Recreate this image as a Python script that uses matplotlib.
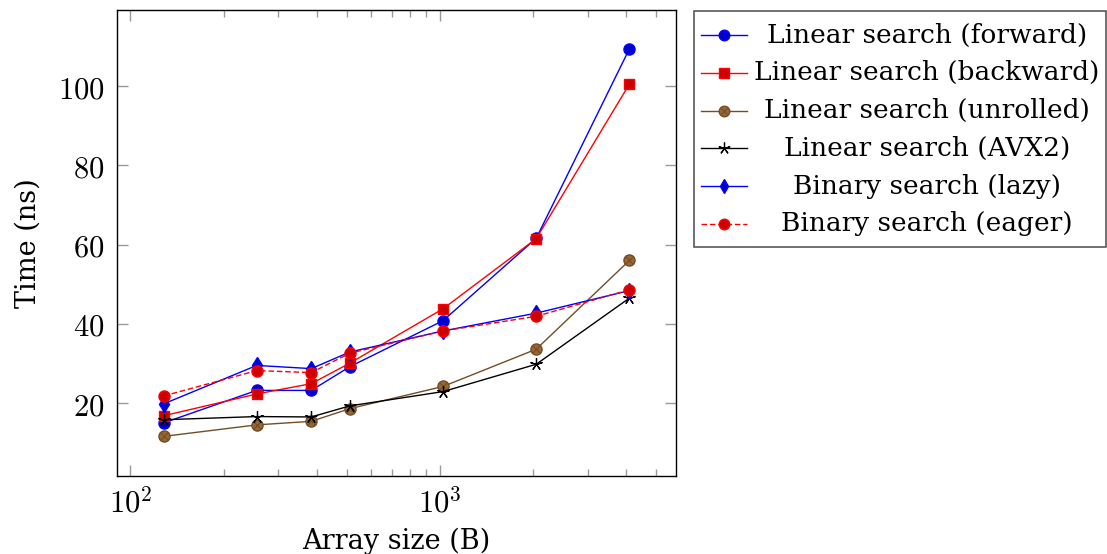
import matplotlib
matplotlib.use('Agg')
import matplotlib.pyplot as plt
from matplotlib.patches import Rectangle
from matplotlib.ticker import FuncFormatter
import numpy as np

# array sizes in bytes and timings in ns
sizes = [128, 256, 384, 512, 1024, 2048, 4096]
linear_forward = [15.0, 23.2, 23.2, 29.2, 40.8, 61.6, 109.4]
linear_backward = [16.8, 22.3, 24.9, 30.1, 43.8, 61.5, 100.5]
linear_unrolled = [11.6, 14.5, 15.4, 18.6, 24.2, 33.6, 56.0]
linear_avx2 = [15.8, 16.6, 16.5, 19.3, 22.9, 29.8, 46.5]
binary_lazy = [19.8, 29.5, 28.7, 32.9, 38.2, 42.7, 48.4]
binary_eager = [21.8, 28.2, 27.7, 32.6, 38.2, 41.9, 48.6]

labels = [
    "Linear search (forward)",
    "Linear search (backward)",
    "Linear search (unrolled)",
    "Linear search (AVX2)",
    "Binary search (lazy)",
    "Binary search (eager)",
]
series = [linear_forward, linear_backward, linear_unrolled,
          linear_avx2, binary_lazy, binary_eager]

# pgfplots-like cycle list
styles = [
    dict(color=(0, 0, 1), marker='o', mfc=(0, 0, 0.8), mec=(0, 0, 1), ms=8, ls='-'),
    dict(color=(1, 0, 0), marker='s', mfc=(0.8, 0, 0), mec=(1, 0, 0), ms=7.5, ls='-'),
    dict(color=(0.45, 0.3, 0.15), marker='o', mfc=(0.6, 0.4, 0.2), mec=(0.45, 0.3, 0.15), ms=8, ls='-'),
    dict(color='black', marker=(5, 2, 0), mfc='black', mec='black', ms=9, ls='-', mew=0.9),
    dict(color=(0, 0, 1), marker='d', mfc=(0, 0, 0.8), mec=(0, 0, 1), ms=8, ls='-'),
    dict(color=(1, 0, 0), marker='o', mfc=(0.8, 0, 0), mec=(1, 0, 0), ms=8, ls=(0, (4, 2))),
]

plt.rcParams['font.family'] = ['DejaVu Serif']
plt.rcParams['mathtext.fontset'] = 'cm'

W, H = 1107, 554
fig = plt.figure(figsize=(W / 100, H / 100), dpi=100)
ax = fig.add_axes([117 / W, 1 - 476 / H, (676 - 117) / W, (476 - 10) / H])

for vals, st, lab in zip(series, styles, labels):
    ax.plot(sizes, vals, lw=1.0, label=lab, **st)
    if lab.endswith('(unrolled)'):
        # otimes mark: cross on top of the filled circle
        ax.plot(sizes, vals, ls='none', marker='x', ms=5.5, mew=0.8,
                color=(0.45, 0.3, 0.15))

ax.set_xscale('log')
ax.set_xlim(90.5, 5793)
ax.set_ylim(1.6, 119.2)
ax.set_yticks([20, 40, 60, 80, 100])
ax.xaxis.set_major_formatter(FuncFormatter(lambda v, p: f'$10^{{{int(round(np.log10(v)))}}}$'))
ax.xaxis.set_minor_formatter(FuncFormatter(lambda v, p: ''))
ax.yaxis.set_major_formatter(FuncFormatter(lambda v, p: f'${v:g}$'))
ax.tick_params(which='both', direction='in', top=True, right=True,
               color='0.6', labelsize=22, pad=9)
ax.tick_params(which='major', length=8, width=1)
ax.tick_params(which='minor', length=5, width=1)
ax.set_xlabel('Array size (B)', fontsize=19.5, labelpad=6)
ax.set_ylabel('Time (ns)', fontsize=19.5, labelpad=12)
for s in ax.spines.values():
    s.set_linewidth(1.0)

# hand-made legend with centred entries, like pgfplots
lx0, lx1, ly0, ly1 = 693, 1106, 10, 248
lax = fig.add_axes([lx0 / W, 1 - ly1 / H, (lx1 - lx0) / W, (ly1 - ly0) / H])
lax.set_xlim(lx0, lx1)
lax.set_ylim(ly1, ly0)
lax.axis('off')
lax.add_patch(Rectangle((lx0 + 0.5, ly0 + 0.5), lx1 - lx0 - 1, ly1 - ly0 - 1,
                        fill=False, ec='0.35', lw=1.2, clip_on=False))
row0, step = 35, 37.8
for i, (st, lab) in enumerate(zip(styles, labels)):
    y = row0 + i * step
    lax.plot([701, 747], [y, y], lw=1.0, color=st['color'], ls=st['ls'])
    lax.plot([724], [y], ls='none', marker=st['marker'], mfc=st['mfc'],
             mec=st['mec'], ms=st['ms'] * 0.95, mew=st.get('mew', 1.0))
    if lab.endswith('(unrolled)'):
        lax.plot([724], [y], ls='none', marker='x', ms=5.0, mew=0.8,
                 color=(0.45, 0.3, 0.15))
    lax.text(927, y, lab, ha='center', va='center', fontsize=19)

fig.savefig('out.png', dpi=100)
